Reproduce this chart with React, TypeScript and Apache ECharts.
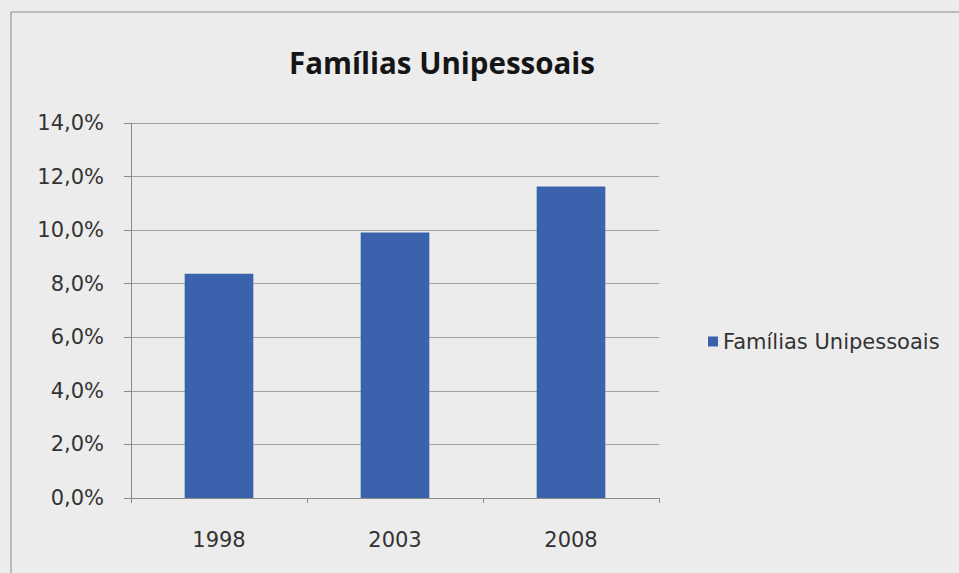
import React, { useEffect, useRef } from "react";
import * as echarts from "echarts";

const categories = ["1998", "2003", "2008"];
const values = [8.37, 9.91, 11.63];
const seriesName = "Famílias Unipessoais";
const titleText = "Famílias Unipessoais";

export default function App() {
  const ref = useRef<HTMLDivElement>(null);
  useEffect(() => {
    if (!ref.current) return;
    const chart = echarts.init(ref.current, null, { renderer: "svg" });
    const labelFont = "DejaVu Sans";
    chart.setOption({
      animation: false,
      backgroundColor: "#ececec",
      title: {
        text: titleText,
        left: 437,
        textAlign: "center",
        top: 42,
        textStyle: { fontFamily: "Open Sans", fontWeight: "bold", fontSize: 29.5, color: "#151515" },
      },
      legend: {
        data: [seriesName],
        left: 703,
        top: 326,
        icon: "rect",
        itemWidth: 10,
        itemHeight: 10,
        itemGap: 6,
        textStyle: { fontFamily: labelFont, fontSize: 21, color: "#333" },
      },
      graphic: [
        {
          type: "rect",
          shape: { x: 11, y: 12, width: 1000, height: 700 },
          style: { fill: "none", stroke: "#8a8a8a", lineWidth: 1 },
          silent: true,
        },
      ],
      grid: { left: 131, right: 300, top: 123, bottom: 75 },
      xAxis: {
        type: "category",
        data: categories,
        axisLine: { lineStyle: { color: "#8a8a8a" } },
        axisTick: { show: true, length: 5, lineStyle: { color: "#8a8a8a" } },
        axisLabel: { margin: 31, fontFamily: labelFont, fontSize: 21, color: "#333" },
      },
      yAxis: {
        type: "value",
        min: 0,
        max: 14,
        interval: 2,
        axisLine: { show: true, lineStyle: { color: "#8a8a8a" } },
        axisTick: { show: true, length: 7, lineStyle: { color: "#8a8a8a" } },
        splitLine: { lineStyle: { color: "#a0a0a0" } },
        axisLabel: {
          margin: 27,
          fontFamily: labelFont,
          fontSize: 21,
          color: "#333",
          formatter: (v: number) => v.toFixed(1).replace(".", ",") + "%",
        },
      },
      series: [
        {
          name: seriesName,
          type: "bar",
          data: values,
          barWidth: "39%",
          itemStyle: { color: "#3b62ad" },
        },
      ],
    });
    return () => chart.dispose();
  }, []);
  return (
    <div
      ref={ref}
      style={{ position: "absolute", left: 0, top: 0, width: 959, height: 573 }}
    />
  );
}
